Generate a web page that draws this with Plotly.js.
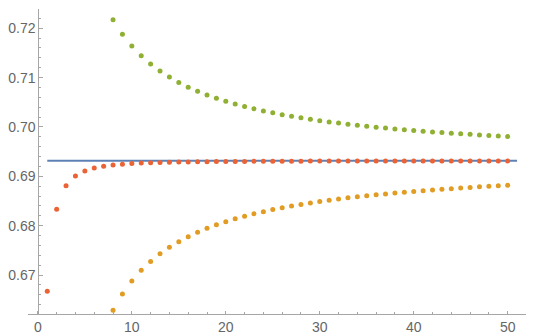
<!DOCTYPE html>
<html>
<head>
<meta charset="utf-8">
<script src="https://cdn.plot.ly/plotly-3.0.1.min.js"></script>
<style>html,body{margin:0;padding:0;background:#fff;}#chart{width:540px;height:336px;}</style>
</head>
<body>
<div id="chart"></div>
<script>
// Reference level (blue line)
const lineX = [1, 51];
const lineY = [0.693147, 0.693147];

// Red series, n = 1..50
const redN = [1,2,3,4,5,6,7,8,9,10,11,12,13,14,15,16,17,18,19,20,21,22,23,24,25,26,27,28,29,30,31,32,33,34,35,36,37,38,39,40,41,42,43,44,45,46,47,48,49,50];
const redY = [0.66670,0.68334,0.68810,0.69008,0.69109,0.69167,0.69204,0.69228,0.69246,0.69258,
              0.69268,0.69275,0.69280,0.69285,0.69289,0.69292,0.69294,0.69296,0.69298,0.69300,
              0.69301,0.69302,0.69303,0.69304,0.69305,0.69306,0.69306,0.69307,0.69308,0.69308,
              0.69308,0.69309,0.69309,0.69309,0.69310,0.69310,0.69310,0.69311,0.69311,0.69311,
              0.69311,0.69311,0.69311,0.69312,0.69312,0.69312,0.69312,0.69312,0.69312,0.69312];

// Orange (lower) series, n = 8..50
const orangeN = [8,9,10,11,12,13,14,15,16,17,18,19,20,21,22,23,24,25,26,27,28,29,30,31,32,33,34,35,36,37,38,39,40,41,42,43,44,45,46,47,48,49,50];
const orangeY = [0.66287,0.66614,0.66877,0.67094,0.67275,0.67429,0.67561,0.67676,0.67777,0.67866,
                 0.67945,0.68016,0.68080,0.68138,0.68191,0.68240,0.68284,0.68325,0.68362,0.68397,
                 0.68430,0.68460,0.68488,0.68515,0.68540,0.68563,0.68585,0.68606,0.68625,0.68644,
                 0.68661,0.68678,0.68694,0.68709,0.68723,0.68737,0.68750,0.68762,0.68774,0.68786,
                 0.68797,0.68807,0.68817];

// Green (upper) series, n = 8..50
const greenN = [8,9,10,11,12,13,14,15,16,17,18,19,20,21,22,23,24,25,26,27,28,29,30,31,32,33,34,35,36,37,38,39,40,41,42,43,44,45,46,47,48,49,50];
const greenY = [0.72172,0.71879,0.71640,0.71442,0.71276,0.71133,0.71010,0.70902,0.70807,0.70723,
                0.70648,0.70581,0.70520,0.70464,0.70414,0.70367,0.70325,0.70286,0.70249,0.70216,
                0.70184,0.70155,0.70128,0.70102,0.70078,0.70055,0.70034,0.70014,0.69995,0.69977,
                0.69960,0.69944,0.69928,0.69914,0.69900,0.69886,0.69873,0.69861,0.69850,0.69838,
                0.69828,0.69817,0.69807];

const xTicks = [0, 10, 20, 30, 40, 50];
const yTicks = [0.67, 0.68, 0.69, 0.70, 0.71, 0.72];

const axisColor = '#a6a6a6';
const labelFont = {family: 'Liberation Sans, Arial, sans-serif', size: 14, color: '#666666'};

const traces = [
  {x: lineX, y: lineY, mode: 'lines', line: {color: '#5E81B5', width: 2}, hoverinfo: 'skip'},
  {x: redN, y: redY, mode: 'markers', marker: {color: '#EB6235', size: 5}},
  {x: orangeN, y: orangeY, mode: 'markers', marker: {color: '#E19C24', size: 5}},
  {x: greenN, y: greenY, mode: 'markers', marker: {color: '#8FB032', size: 5}}
];

const layout = {
  width: 540, height: 336,
  margin: {l: 28, r: 14, t: 9, b: 22, pad: 0},
  showlegend: false,
  paper_bgcolor: '#ffffff', plot_bgcolor: '#ffffff',
  xaxis: {
    range: [-1.05, 51.95],
    showgrid: false, zeroline: false,
    showline: true, linecolor: axisColor, linewidth: 1,
    tickmode: 'array', tickvals: xTicks, ticktext: xTicks.map(String),
    ticks: 'inside', ticklen: 3, tickcolor: axisColor, tickwidth: 1,
    minor: {dtick: 2, tick0: 0, ticks: 'inside', ticklen: 2, tickcolor: axisColor, showgrid: false},
    tickfont: labelFont,
    ticklabelstandoff: 0
  },
  yaxis: {
    range: [0.6621, 0.7239],
    anchor: 'free', position: 0.0207,
    showgrid: false, zeroline: false,
    showline: true, linecolor: axisColor, linewidth: 1,
    tickmode: 'array', tickvals: yTicks, ticktext: yTicks.map(v => v.toFixed(2)),
    ticks: 'inside', ticklen: 4, tickcolor: axisColor, tickwidth: 1,
    minor: {dtick: 0.002, tick0: 0.66, ticks: 'inside', ticklen: 2, tickcolor: axisColor, showgrid: false},
    tickfont: labelFont,
    ticklabelstandoff: 0
  }
};

Plotly.newPlot('chart', traces, layout, {staticPlot: true, displayModeBar: false});
</script>
</body>
</html>
